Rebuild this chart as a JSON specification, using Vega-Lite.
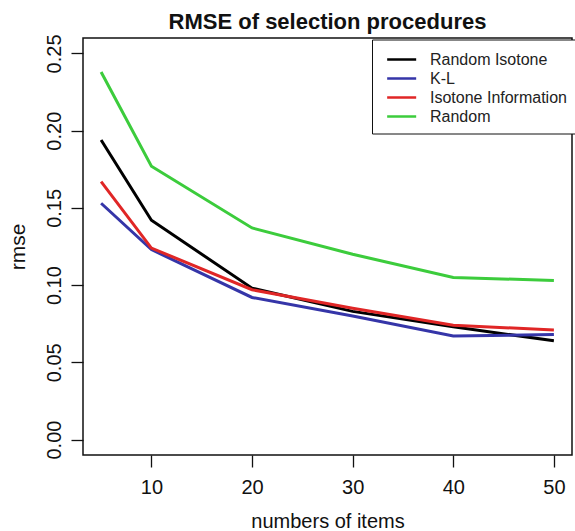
{
  "$schema": "https://vega.github.io/schema/vega-lite/v6.json",
  "autosize": {"type": "none"},
  "padding": {"left": 83, "top": 38, "right": 3, "bottom": 76},
  "width": 489,
  "height": 417,
  "background": "white",
  "title": {
    "text": "RMSE of selection procedures",
    "font": "Liberation Sans",
    "fontSize": 22,
    "fontWeight": "bold",
    "color": "#111111",
    "anchor": "middle",
    "frame": "group",
    "baseline": "alphabetic",
    "offset": 9,
    "dy": 26
  },
  "config": {
    "view": {"stroke": "#111111", "strokeWidth": 1.5},
    "font": "Liberation Sans"
  },
  "data": {
    "values": [
      {"items": 5, "rmse": 0.194, "method": "Random Isotone"},
      {"items": 10, "rmse": 0.142, "method": "Random Isotone"},
      {"items": 20, "rmse": 0.098, "method": "Random Isotone"},
      {"items": 30, "rmse": 0.083, "method": "Random Isotone"},
      {"items": 40, "rmse": 0.073, "method": "Random Isotone"},
      {"items": 50, "rmse": 0.064, "method": "Random Isotone"},
      {"items": 5, "rmse": 0.153, "method": "K-L"},
      {"items": 10, "rmse": 0.123, "method": "K-L"},
      {"items": 20, "rmse": 0.092, "method": "K-L"},
      {"items": 30, "rmse": 0.080, "method": "K-L"},
      {"items": 40, "rmse": 0.067, "method": "K-L"},
      {"items": 50, "rmse": 0.068, "method": "K-L"},
      {"items": 5, "rmse": 0.167, "method": "Isotone Information"},
      {"items": 10, "rmse": 0.124, "method": "Isotone Information"},
      {"items": 20, "rmse": 0.097, "method": "Isotone Information"},
      {"items": 30, "rmse": 0.085, "method": "Isotone Information"},
      {"items": 40, "rmse": 0.074, "method": "Isotone Information"},
      {"items": 50, "rmse": 0.071, "method": "Isotone Information"},
      {"items": 5, "rmse": 0.238, "method": "Random"},
      {"items": 10, "rmse": 0.177, "method": "Random"},
      {"items": 20, "rmse": 0.137, "method": "Random"},
      {"items": 30, "rmse": 0.120, "method": "Random"},
      {"items": 40, "rmse": 0.105, "method": "Random"},
      {"items": 50, "rmse": 0.103, "method": "Random"}
    ]
  },
  "mark": {"type": "line", "strokeWidth": 3},
  "encoding": {
    "x": {
      "field": "items",
      "type": "quantitative",
      "scale": {"domain": [3.2, 51.8], "nice": false, "zero": false},
      "axis": {
        "title": "numbers of items",
        "values": [10, 20, 30, 40, 50],
        "grid": false,
        "domain": false,
        "ticks": true,
        "tickSize": 12,
        "tickWidth": 1.3,
        "tickColor": "#111111",
        "labelFontSize": 20,
        "labelColor": "#111111",
        "labelPadding": 10,
        "labelFont": "Liberation Sans",
        "titleFont": "Liberation Sans",
        "titleFontSize": 20,
        "titleFontWeight": "normal",
        "titleColor": "#111111",
        "titlePadding": 14
      }
    },
    "y": {
      "field": "rmse",
      "type": "quantitative",
      "scale": {"domain": [-0.01, 0.26], "nice": false, "zero": false},
      "axis": {
        "title": "rmse",
        "values": [0, 0.05, 0.1, 0.15, 0.2, 0.25],
        "format": ".2f",
        "grid": false,
        "domain": false,
        "tickSize": 12,
        "tickWidth": 1.3,
        "tickColor": "#111111",
        "labelAngle": -90,
        "labelAlign": "center",
        "labelBaseline": "alphabetic",
        "labelPadding": 11,
        "labelFontSize": 20,
        "labelColor": "#111111",
        "labelFont": "Liberation Sans",
        "titleFont": "Liberation Sans",
        "titleFontSize": 21,
        "titleFontWeight": "normal",
        "titleColor": "#111111",
        "titlePadding": 16
      }
    },
    "color": {
      "field": "method",
      "type": "nominal",
      "sort": ["Random Isotone", "K-L", "Isotone Information", "Random"],
      "scale": {
        "domain": ["Random Isotone", "K-L", "Isotone Information", "Random"],
        "range": ["#000000", "#3535a8", "#e02626", "#3ccc3c"]
      },
      "legend": {
        "title": null,
        "orient": "none",
        "legendX": 289,
        "legendY": 1.5,
        "strokeColor": "#111111",
        "fillColor": "white",
        "padding": 9,
        "symbolType": "M-0.5,0H2.5",
        "symbolSize": 374,
        "symbolStrokeWidth": 2.5,
        "labelFont": "Liberation Sans",
        "labelFontSize": 16,
        "labelColor": "#222222",
        "labelOffset": 27,
        "rowPadding": 0,
        "labelLimit": 300
      }
    }
  }
}
